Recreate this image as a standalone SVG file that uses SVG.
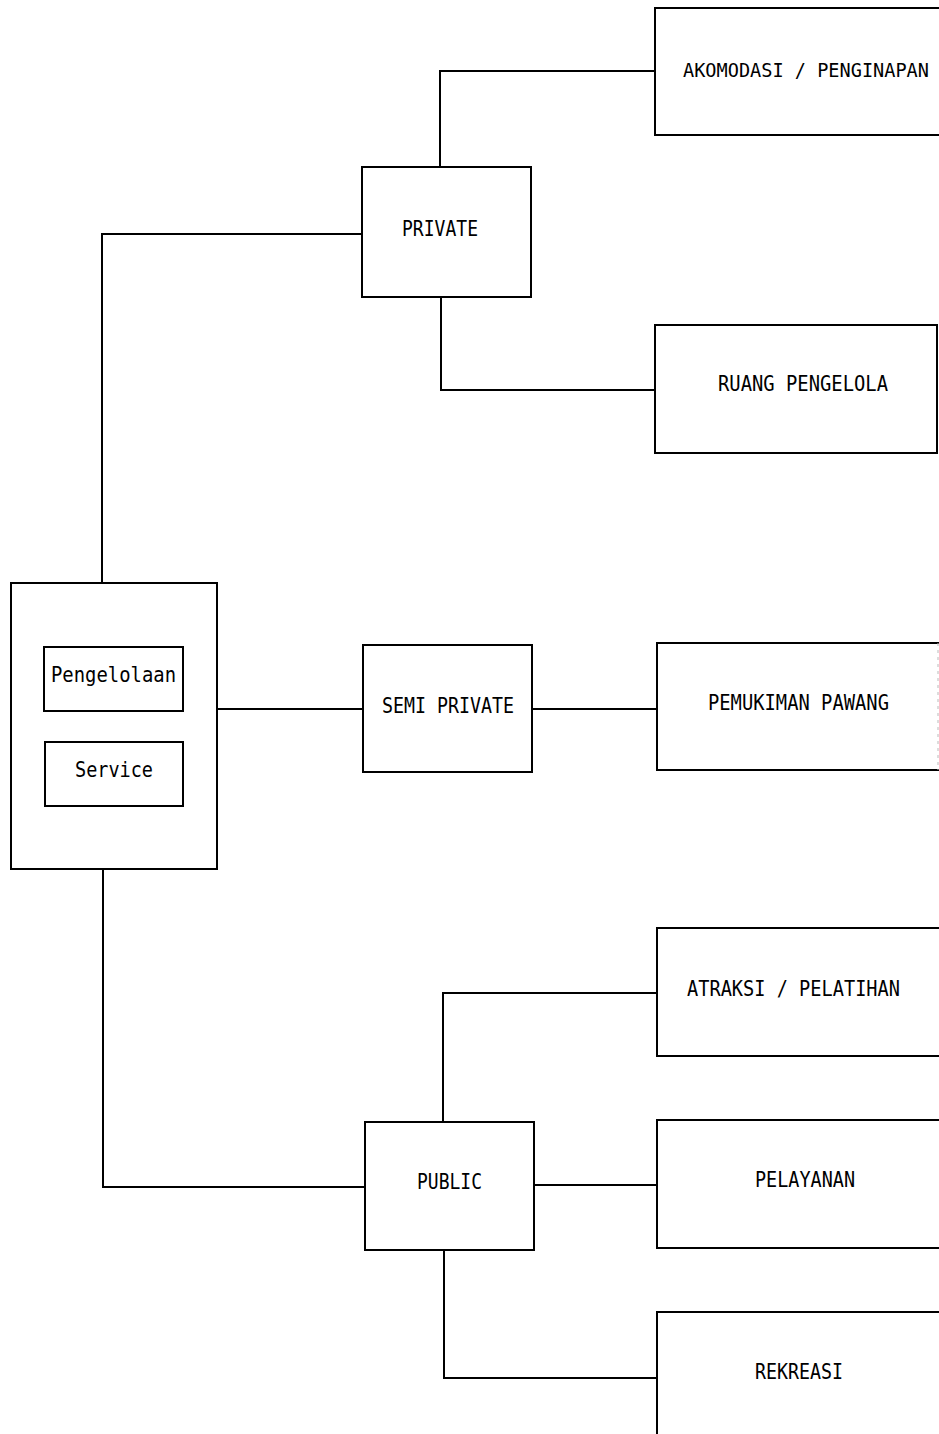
<svg xmlns="http://www.w3.org/2000/svg" width="939" height="1434" viewBox="0 0 939 1434">
<style>
.box{fill:#fff;stroke:#000;stroke-width:2}
.open{fill:none;stroke:#000;stroke-width:2}
.con{fill:none;stroke:#000;stroke-width:2}
.t{font-family:"DejaVu Sans Mono","Liberation Mono",monospace;font-size:21px;fill:#000}
</style>
<rect width="939" height="1434" fill="#fff"/>
<g id="connectors">
<path class="con" d="M102 583 V234 H362"/>
<path class="con" d="M103 869 V1187 H365"/>
<path class="con" d="M217 709 H363"/>
<path class="con" d="M532 709 H657"/>
<path class="con" d="M440 167 V71 H655"/>
<path class="con" d="M441 297 V390 H655"/>
<path class="con" d="M443 1121 V993 H657"/>
<path class="con" d="M534 1185 H657"/>
<path class="con" d="M444 1250 V1378 H657"/>
</g>
<g id="node-main">
<rect class="box" x="11" y="583" width="206" height="286"/>
</g>
<g id="node-pengelolaan">
<rect class="box" x="44" y="647" width="139" height="64"/>
<text class="t" x="51" y="682" textLength="125" lengthAdjust="spacingAndGlyphs">Pengelolaan</text>
</g>
<g id="node-service">
<rect class="box" x="45" y="742" width="138" height="64"/>
<text class="t" x="75" y="777" textLength="78" lengthAdjust="spacingAndGlyphs">Service</text>
</g>
<g id="node-private">
<rect class="box" x="362" y="167" width="169" height="130"/>
<text class="t" x="402" y="236" textLength="76" lengthAdjust="spacingAndGlyphs">PRIVATE</text>
</g>
<g id="node-semi-private">
<rect class="box" x="363" y="645" width="169" height="127"/>
<text class="t" x="382" y="713" textLength="132" lengthAdjust="spacingAndGlyphs">SEMI PRIVATE</text>
</g>
<g id="node-public">
<rect class="box" x="365" y="1122" width="169" height="128"/>
<text class="t" x="417" y="1189" textLength="65" lengthAdjust="spacingAndGlyphs">PUBLIC</text>
</g>
<g id="node-akomodasi">
<path class="open" d="M939 8 H655 V135 H939"/>
<text class="t" x="683" y="77" font-size="19" style="font-size:19px" textLength="246" lengthAdjust="spacingAndGlyphs">AKOMODASI / PENGINAPAN</text>
</g>
<g id="node-ruang-pengelola">
<rect class="box" x="655" y="325" width="282" height="128"/>
<text class="t" x="718" y="391" textLength="170" lengthAdjust="spacingAndGlyphs">RUANG PENGELOLA</text>
</g>
<g id="node-pemukiman">
<path class="open" d="M939 643 H657 V770 H939"/>
<path d="M938 643 V770" fill="none" stroke="#bbb" stroke-width="1" stroke-dasharray="3 4"/>
<text class="t" x="708" y="710" textLength="181" lengthAdjust="spacingAndGlyphs">PEMUKIMAN PAWANG</text>
</g>
<g id="node-atraksi">
<path class="open" d="M939 928 H657 V1056 H939"/>
<text class="t" x="687" y="996" textLength="213" lengthAdjust="spacingAndGlyphs">ATRAKSI / PELATIHAN</text>
</g>
<g id="node-pelayanan">
<path class="open" d="M939 1120 H657 V1248 H939"/>
<text class="t" x="755" y="1187" textLength="100" lengthAdjust="spacingAndGlyphs">PELAYANAN</text>
</g>
<g id="node-rekreasi">
<path class="open" d="M939 1312 H657 V1434"/>
<text class="t" x="755" y="1379" textLength="88" lengthAdjust="spacingAndGlyphs">REKREASI</text>
</g>
</svg>
